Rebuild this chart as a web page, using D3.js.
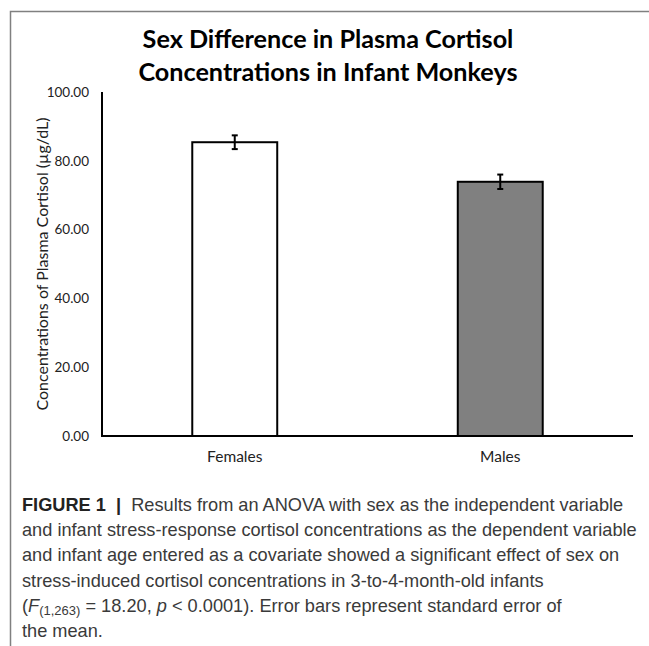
<!DOCTYPE html>
<html>
<head>
<meta charset="utf-8">
<style>
  body { margin: 0; background: #fff; }
  #container { width: 649px; height: 646px; }
</style>
</head>
<body>
<div id="container"></div>
<script src="https://cdn.jsdelivr.net/npm/d3@7"></script>
<script>
// chart data
const categories = ["Females", "Males"];
const means = [85.4, 73.9];
const stdErrors = [2.0, 2.1];
const barFills = ["#ffffff", "#808080"];
const yTicks = [0, 20, 40, 60, 80, 100];

const titleLines = [
    "Sex Difference in Plasma Cortisol",
    "Concentrations in Infant Monkeys"
];
const yLabel = "Concentrations of Plasma Cortisol  (\u00b5g/dL)";

const svg = d3.select("#container")
    .append("svg")
    .attr("width", 649)
    .attr("height", 646);

// frame around the figure (top + left only, cut by the crop)
svg.append("path")
    .attr("d", "M10.5,646 L10.5,11.5 L649,11.5")
    .attr("fill", "none")
    .attr("stroke", "#808080")
    .attr("stroke-width", 1.5);

const chartFont = "Lato, 'Open Sans', sans-serif";

const x = d3.scaleBand()
    .domain(categories)
    .range([102, 633])
    .paddingInner(0.68)
    .paddingOuter(0.34);

const y = d3.scaleLinear()
    .domain([0, 100])
    .range([436, 92]);

// title
svg.append("g")
    .selectAll("text")
    .data(titleLines)
    .join("text")
    .attr("x", 328)
    .attr("y", (d, i) => 48 + i * 33)
    .attr("text-anchor", "middle")
    .attr("font-family", chartFont)
    .attr("font-weight", "bold")
    .attr("font-size", 25.2)
    .attr("fill", "#000")
    .text(d => d);

// y axis tick labels
svg.append("g")
    .selectAll("text")
    .data(yTicks)
    .join("text")
    .attr("x", 89)
    .attr("y", d => y(d))
    .attr("dy", "0.35em")
    .attr("text-anchor", "end")
    .attr("font-family", chartFont)
    .attr("font-size", 13.5)
    .attr("fill", "#222")
    .text(d => d.toFixed(2));

// y axis title
svg.append("text")
    .attr("transform", "translate(42," + y(50) + ") rotate(-90)")
    .attr("dy", "0.35em")
    .attr("text-anchor", "middle")
    .attr("font-family", chartFont)
    .attr("font-size", 16)
    .attr("fill", "#222")
    .text(yLabel);

// bars
svg.append("g")
    .selectAll("rect")
    .data(means)
    .join("rect")
    .attr("x", (d, i) => x(categories[i]))
    .attr("y", d => y(d))
    .attr("width", x.bandwidth())
    .attr("height", d => y(0) - y(d))
    .attr("fill", (d, i) => barFills[i])
    .attr("stroke", "#000")
    .attr("stroke-width", 2);

// error bars
const err = svg.append("g")
    .attr("stroke", "#000")
    .attr("stroke-width", 2);

means.forEach((m, i) => {
    const cx = x(categories[i]) + x.bandwidth() / 2;
    const lo = y(m - stdErrors[i]);
    const hi = y(m + stdErrors[i]);
    err.append("line").attr("x1", cx).attr("x2", cx).attr("y1", lo).attr("y2", hi);
    err.append("line").attr("x1", cx - 3).attr("x2", cx + 3).attr("y1", lo).attr("y2", lo);
    err.append("line").attr("x1", cx - 3).attr("x2", cx + 3).attr("y1", hi).attr("y2", hi);
});

// axes lines
svg.append("line")
    .attr("x1", 102).attr("x2", 102)
    .attr("y1", y(100)).attr("y2", y(0))
    .attr("stroke", "#000").attr("stroke-width", 2);

svg.append("line")
    .attr("x1", 101).attr("x2", 633)
    .attr("y1", y(0)).attr("y2", y(0))
    .attr("stroke", "#000").attr("stroke-width", 2);

// category labels
svg.append("g")
    .selectAll("text")
    .data(categories)
    .join("text")
    .attr("x", d => x(d) + x.bandwidth() / 2)
    .attr("y", 462)
    .attr("text-anchor", "middle")
    .attr("font-family", chartFont)
    .attr("font-size", 15.5)
    .attr("fill", "#222")
    .text(d => d);

// caption
const capFont = "'Liberation Sans', Arial, sans-serif";

const capLines = [
    [{ t: "FIGURE 1", b: true }, { t: "  |  ", b: true }, { t: "Results from an ANOVA with sex as the independent variable" }],
    [{ t: "and infant stress-response cortisol concentrations as the dependent variable" }],
    [{ t: "and infant age entered as a covariate showed a significant effect of sex on" }],
    [{ t: "stress-induced cortisol concentrations in 3-to-4-month-old infants" }],
    [{ t: "(" }, { t: "F", it: true }, { t: "(1,263)", sub: true }, { t: " = 18.20, " }, { t: "p", it: true }, { t: " < 0.0001). Error bars represent standard error of" }],
    [{ t: "the mean." }]
];

capLines.forEach((line, li) => {
    const row = svg.append("text")
        .attr("x", 22)
        .attr("y", 511 + li * 25.2)
        .attr("font-family", capFont)
        .attr("font-size", 18.2)
        .attr("fill", "#3a3a3a")
        .attr("xml:space", "preserve")
        .style("white-space", "pre");
    line.forEach(seg => {
        const ts = row.append("tspan").text(seg.t);
        if (seg.b) ts.attr("font-weight", "bold").attr("fill", "#222");
        if (seg.it) ts.attr("font-style", "italic");
        if (seg.sub) ts.attr("font-size", 13).attr("baseline-shift", "-25%");
    });
});
</script>
</body>
</html>
